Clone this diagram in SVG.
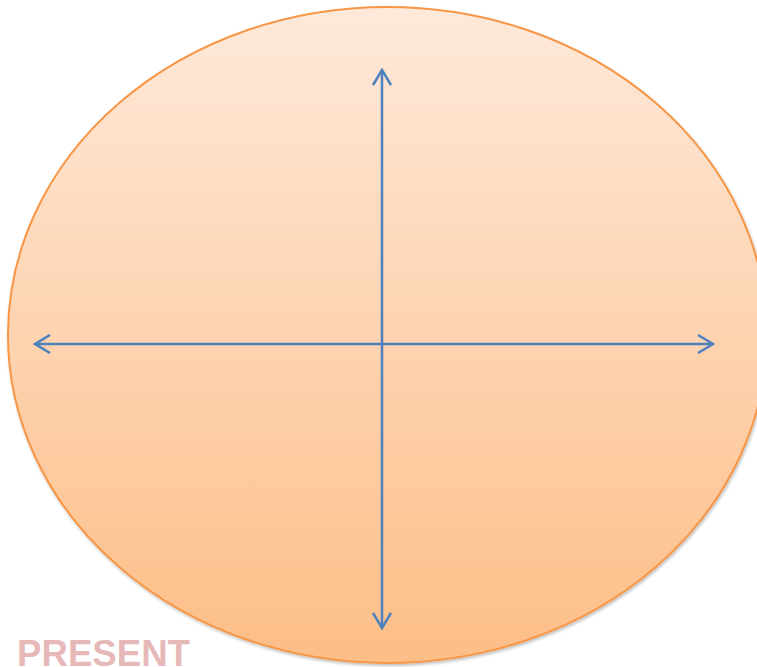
<svg xmlns="http://www.w3.org/2000/svg" width="757" height="667" viewBox="0 0 757 667">
<defs>
<linearGradient id="g" x1="0" y1="0" x2="0" y2="1">
<stop offset="0" stop-color="#FEE9DA"/>
<stop offset="1" stop-color="#FDBE87"/>
</linearGradient>
<filter id="sh" x="-5%" y="-5%" width="110%" height="110%">
<feGaussianBlur in="SourceAlpha" stdDeviation="1.5"/>
<feOffset dx="1" dy="2"/>
<feComponentTransfer><feFuncA type="linear" slope="0.25"/></feComponentTransfer>
<feMerge><feMergeNode/><feMergeNode in="SourceGraphic"/></feMerge>
</filter>
<marker id="ah" viewBox="0 0 20 20" refX="17" refY="10" markerWidth="20" markerHeight="20" markerUnits="userSpaceOnUse" orient="auto-start-reverse">
<path d="M2,1 L17,10 L2,19" fill="none" stroke="#4F81BD" stroke-width="2.5"/>
</marker>
<style>
.ax{stroke:#4F81BD;stroke-width:2.5;fill:none;marker-start:url(#ah);marker-end:url(#ah)}
.lbl{font-family:"Liberation Sans",Arial,sans-serif;font-weight:bold;font-size:36px;fill:#E6B9B8}
</style>
</defs>
<g id="circle">
<ellipse cx="387.5" cy="335" rx="379.5" ry="328" fill="url(#g)" stroke="#F79646" stroke-width="2" filter="url(#sh)"/>
</g>
<g id="connectors">
<line class="ax" x1="382" y1="70" x2="382" y2="628"/>
<line class="ax" x1="35" y1="344" x2="713" y2="344"/>
</g>
<g id="label">
<text class="lbl" x="17" y="666" textLength="173" lengthAdjust="spacingAndGlyphs">PRESENT</text>
</g>
</svg>
